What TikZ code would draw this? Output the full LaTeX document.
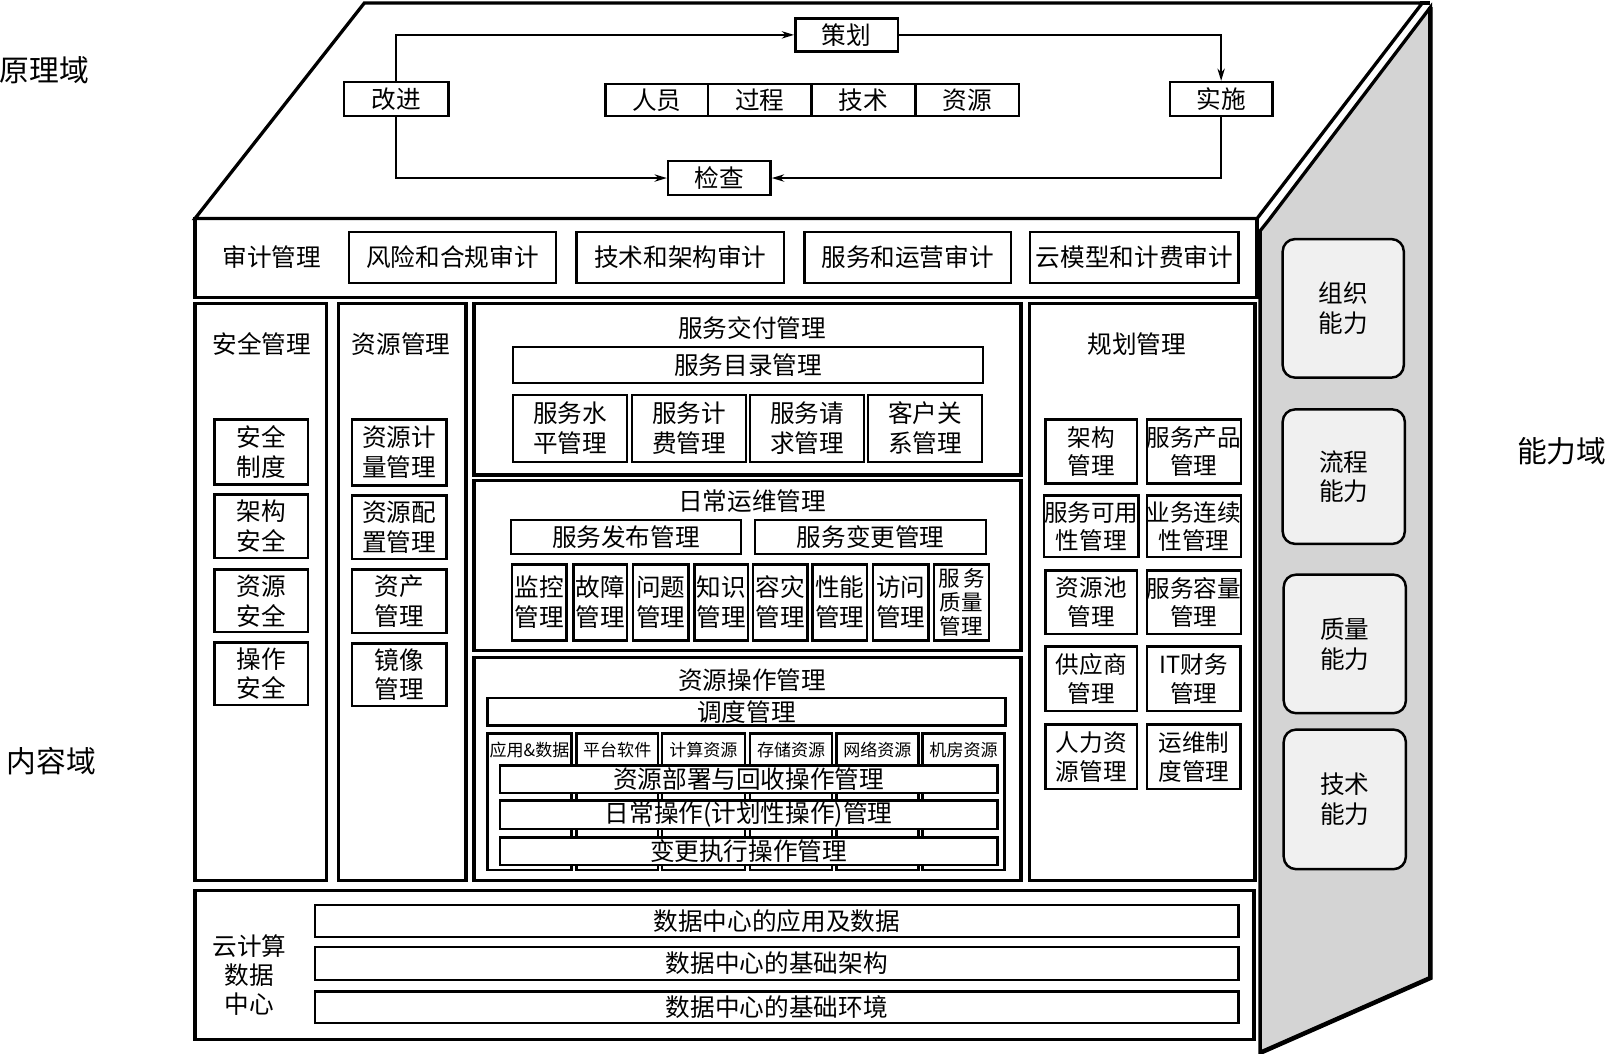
\documentclass[tikz,border=0pt]{standalone}
\usepackage{fontspec}
\setmainfont{Noto Sans CJK SC}
\usetikzlibrary{arrows.meta}
\newcommand\fz[2]{\fontsize{#1}{#2}\selectfont}
\newcommand\rbox[7][]{\node[bx,#1,minimum width={(#5-(#3))*0.5pt},minimum height={(#6-(#4))*0.5pt}] (#2) at ({(#3+#5)/2},{(#4+#6)/2}) {#7};}
\begin{document}
\begin{tikzpicture}[x=0.5pt,y=-0.5pt,
  bx/.style={draw,line width=1.2pt,rectangle,inner sep=0pt,align=center,font=\fz{12}{14.5}},
  sec/.style={line width=1.6pt},
  lbl/.style={inner sep=0pt,align=center,font=\fz{12}{14.5}},
  dom/.style={inner sep=0pt,font=\fz{14.5}{16}},
  capbox/.style={draw,line width=1.2pt,rounded corners=6pt,fill=black!6},
  arr/.style={line width=0.8pt,-{Stealth[length=6pt,width=3.6pt]}}]
\useasboundingbox (0,0) rectangle (1568,1027);
% side face
\draw[line width=1.6pt,fill=black!17,line join=miter] (1228,1026) -- (1228,225) -- (1236,215) -- (1394,7) -- (1394,953) -- cycle;
\draw[line width=2.2pt] (1394,7) -- (1394,953) -- (1228,1026);
% top face
\draw[line width=1.6pt,fill=white,line join=miter] (355,3) -- (1386,3) -- (1225,213) -- (190,213) -- cycle;
\draw[line width=1.6pt] (1384,3) -- (1394,3);
% domain labels
\node[dom] (yuanli) at (43,68) {原理域};
\node[dom] (neirong) at (50,742) {内容域};
\node[dom] (nengli) at (1522,440) {能力域};
% PDCA
\rbox{ch}{775}{18}{875}{50}{策划}
\rbox{gj}{335}{80}{437}{113}{改进}
\rbox{ss}{1140}{80}{1240}{113}{实施}
\rbox{jc}{651}{157}{751}{190}{检查}
\rbox{ry}{590}{82}{690}{113}{人员}
\rbox{gc}{690}{82}{791}{113}{过程}
\rbox{js}{791}{82}{892}{113}{技术}
\rbox{zy}{892}{82}{993}{113}{资源}
\draw[arr] (gj.north) |- (ch.west);
\draw[arr] (ch.east) -| (ss.north);
\draw[arr] (ss.south) |- (jc.east);
\draw[arr] (gj.south) |- (jc.west);
% audit
\rbox[sec]{audit}{190}{213}{1225}{290}{}
\node[lbl] (sjgl) at (265,251) {审计管理};
\rbox{a1}{340}{226}{542}{276}{风险和合规审计}
\rbox{a2}{562}{226}{764}{276}{技术和架构审计}
\rbox{a3}{784}{226}{985}{276}{服务和运营审计}
\rbox{a4}{1004}{226}{1207}{276}{云模型和计费审计}
% security
\rbox[sec]{aq}{190}{296}{318}{858}{}
\node[lbl] (aqt) at (255,335) {安全管理};
\rbox{aq1}{209}{409}{300}{472}{安全\\制度}
\rbox{aq2}{209}{482}{300}{544}{架构\\安全}
\rbox{aq3}{209}{555}{300}{616}{资源\\安全}
\rbox{aq4}{209}{626}{300}{687}{操作\\安全}
% resource management
\rbox[sec]{zygl}{330}{296}{454}{858}{}
\node[lbl] (zyt) at (391,335) {资源管理};
\rbox{zy1}{343}{409}{435}{473}{资源计\\量管理}
\rbox{zy2}{343}{483}{435}{545}{资源配\\置管理}
\rbox{zy3}{343}{555}{435}{617}{资产\\管理}
\rbox{zy4}{343}{627}{435}{688}{镜像\\管理}
% service delivery
\rbox[sec]{fwjf}{462}{296}{995}{463}{}
\node[lbl] (fwjft) at (733,320) {服务交付管理};
\rbox{mulu}{500}{338}{958}{373}{服务目录管理}
\rbox{f1}{500}{385}{611}{450}{服务水\\平管理}
\rbox{f2}{616}{385}{727}{450}{服务计\\费管理}
\rbox{f3}{731}{385}{842}{450}{服务请\\求管理}
\rbox{f4}{846}{385}{957}{450}{客户关\\系管理}
% daily ops
\rbox[sec]{rcyw}{462}{468}{995}{634}{}
\node[lbl] (rcywt) at (733,488) {日常运维管理};
\rbox{fb}{498}{507}{722}{540}{服务发布管理}
\rbox{bg}{736}{507}{961}{540}{服务变更管理}
\rbox{o1}{499}{550}{552}{624}{监控\\管理}
\rbox{o2}{559}{550}{611}{624}{故障\\管理}
\rbox{o3}{617}{550}{671}{624}{问题\\管理}
\rbox{o4}{677}{550}{729}{624}{知识\\管理}
\rbox{o5}{734}{550}{787}{624}{容灾\\管理}
\rbox{o6}{792}{550}{845}{624}{性能\\管理}
\rbox{o7}{851}{550}{905}{624}{访问\\管理}
\rbox[font=\fz{10.5}{11.5}]{o8}{910}{550}{964}{624}{服\,务\\质量\\管理}
% resource operations
\rbox[sec]{zycz}{462}{641}{995}{858}{}
\node[lbl] (zyczt) at (733,663) {资源操作管理};
\rbox{dd}{475}{680}{980}{707}{调度管理}
\rbox{c1}{475}{715}{557}{848}{}
\rbox{c2}{562}{715}{641}{848}{}
\rbox{c3}{645}{715}{726}{848}{}
\rbox{c4}{731}{715}{811}{848}{}
\rbox{c5}{815}{715}{895}{848}{}
\rbox{c6}{899}{715}{979}{848}{}
\node[lbl,font=\fz{8.3}{9}] (c1t) at (516,731) {应用\&数据};
\node[lbl,font=\fz{8.3}{9}] (c2t) at (601.5,731) {平台软件};
\node[lbl,font=\fz{8.3}{9}] (c3t) at (685.5,731) {计算资源};
\node[lbl,font=\fz{8.3}{9}] (c4t) at (771,731) {存储资源};
\node[lbl,font=\fz{8.3}{9}] (c5t) at (855,731) {网络资源};
\node[lbl,font=\fz{8.3}{9}] (c6t) at (939,731) {机房资源};
\rbox[fill=white]{b1}{487}{746}{972}{773}{资源部署与回收操作管理}
\rbox[fill=white]{b2}{487}{780}{972}{808}{日常操作(计划性操作)管理}
\rbox[fill=white]{b3}{487}{816}{972}{843}{变更执行操作管理}
% planning
\rbox[sec]{gh}{1003}{296}{1223}{858}{}
\node[lbl] (ght) at (1108,335) {规划管理};
\tikzset{gb/.style={font=\fz{11.5}{14}}}
\rbox[gb]{g1}{1019}{409}{1108}{471}{架构\\管理}
\rbox[gb]{g2}{1118}{409}{1209}{471}{服务产品\\管理}
\rbox[gb]{g3}{1019}{483}{1108}{543}{服务可用\\性管理}
\rbox[gb]{g4}{1118}{483}{1209}{543}{业务连续\\性管理}
\rbox[gb]{g5}{1019}{556}{1108}{618}{资源池\\管理}
\rbox[gb]{g6}{1118}{556}{1209}{618}{服务容量\\管理}
\rbox[gb]{g7}{1019}{630}{1108}{693}{供应商\\管理}
\rbox[gb]{g8}{1118}{630}{1209}{693}{IT财务\\管理}
\rbox[gb]{g9}{1019}{706}{1108}{769}{人力资\\源管理}
\rbox[gb]{g10}{1118}{706}{1209}{769}{运维制\\度管理}
% data center
\rbox[sec]{dc}{190}{868}{1222}{1013}{}
\node[lbl,font=\fz{12}{14}] (dct) at (243,950) {云计算\\数据\\中心};
\rbox{d1}{307}{882}{1207}{913}{数据中心的应用及数据}
\rbox{d2}{307}{923}{1207}{955}{数据中心的基础架构}
\rbox{d3}{307}{966}{1207}{997}{数据中心的基础环境}
% capabilities
\rbox[capbox]{k1}{1250}{233}{1368}{368}{组织\\能力}
\rbox[capbox]{k2}{1250}{399}{1369}{530}{流程\\能力}
\rbox[capbox]{k3}{1251}{560}{1370}{695}{质量\\能力}
\rbox[capbox]{k4}{1251}{711}{1370}{847}{技术\\能力}
\end{tikzpicture}
\end{document}
